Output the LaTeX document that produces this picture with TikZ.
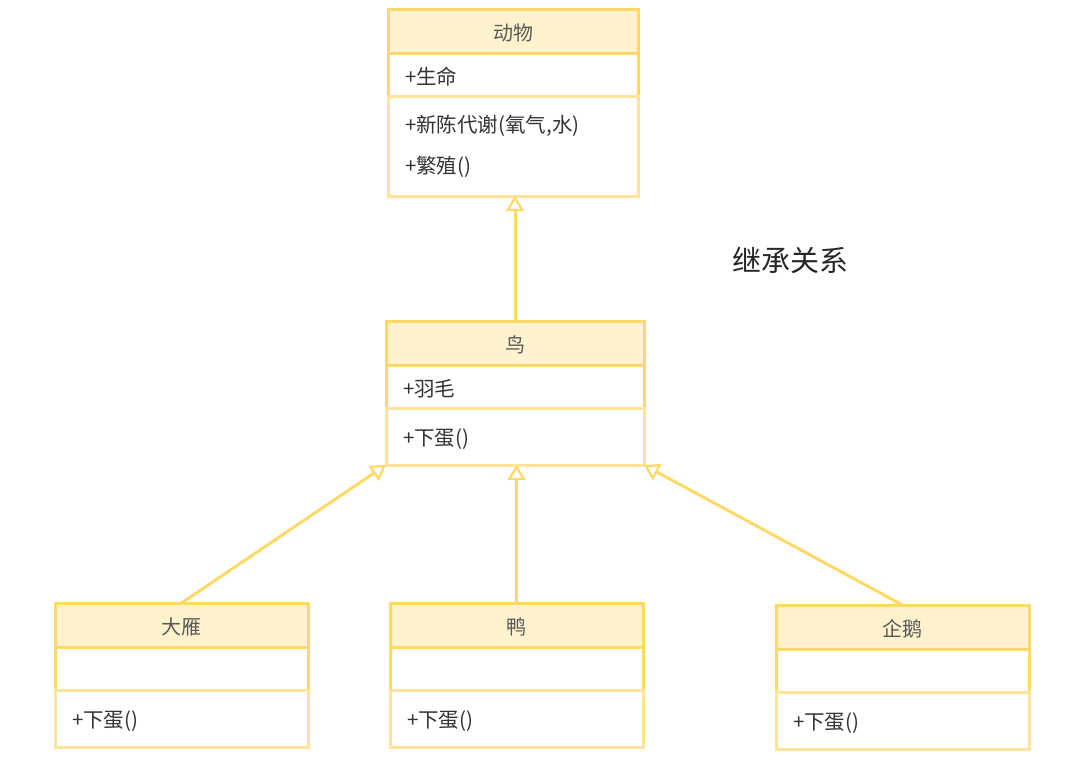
\documentclass[tikz,border=0pt]{standalone}
\usepackage{fontspec}
\setmainfont{Noto Sans CJK SC}
\usetikzlibrary{positioning,arrows.meta}
\definecolor{umlline}{HTML}{FFD966}
\definecolor{umlpale}{HTML}{FFE49A}
\definecolor{umlfill}{HTML}{FFF2CC}
\begin{document}
\begin{tikzpicture}[x=1pt,y=-1pt,
  classhead/.style={draw=umlline,line width=3pt,outer sep=0pt,fill=umlfill,minimum width=253pt,minimum height=44pt,
    text height=21pt,text=black!65,font=\fontsize{20}{23}\selectfont},
  classattr/.style={draw=umlline,line width=3pt,outer sep=0pt,fill=white,minimum width=253pt,minimum height=43pt,
    text width=219pt,inner xsep=17pt,align=left,text height=22pt,text=black!80,font=\fontsize{20.5}{23}\selectfont},
  classmeth/.style={classattr,draw=umlpale,minimum height=57pt},
  inherit/.style={draw=umlline,line width=3pt,-{Triangle[open,width=18pt,length=15pt,line width=2.2pt]}}]
\useasboundingbox (0,0) rectangle (1077,761);
\node[classhead,minimum width=250pt] (dongwu) at (513,31) {动物};
\node[classattr,below=0pt of dongwu,minimum width=250pt,text width=216pt] (dongwu-a) {+生命};
\node[classmeth,below=0pt of dongwu-a,minimum width=250pt,text width=216pt,minimum height=100pt,text height=] (dongwu-m)
  {+新陈代谢(氧气,水)\\[18pt]+繁殖()};
\node[classhead,minimum width=258pt] (niao) at (515,343) {鸟};
\node[classattr,below=0pt of niao,minimum width=258pt,text width=224pt] (niao-a) {+羽毛};
\node[classmeth,below=0pt of niao-a,minimum width=258pt,text width=224pt] (niao-m) {+下蛋()};
\node[classhead] (dayan) at (181.5,625) {大雁};
\node[classattr,below=0pt of dayan] (dayan-a) {};
\node[classmeth,below=0pt of dayan-a] (dayan-m) {+下蛋()};
\node[classhead] (ya) at (516.5,625) {鸭};
\node[classattr,below=0pt of ya] (ya-a) {};
\node[classmeth,below=0pt of ya-a] (ya-m) {+下蛋()};
\node[classhead] (qie) at (902.5,627) {企鹅};
\node[classattr,below=0pt of qie] (qie-a) {};
\node[classmeth,below=0pt of qie-a] (qie-m) {+下蛋()};
\node[text=black!85,font=\fontsize{29}{34}\selectfont] (jicheng) at (790,260) {继承关系};
\draw[inherit] (niao.north) -- (niao.north |- dongwu-m.south);
\draw[inherit] (dayan.north) -- (niao-m.south west);
\draw[inherit] (ya.north) -- (ya.north |- niao-m.south);
\draw[inherit] (qie.north) -- (niao-m.south east);
\end{tikzpicture}
\end{document}
